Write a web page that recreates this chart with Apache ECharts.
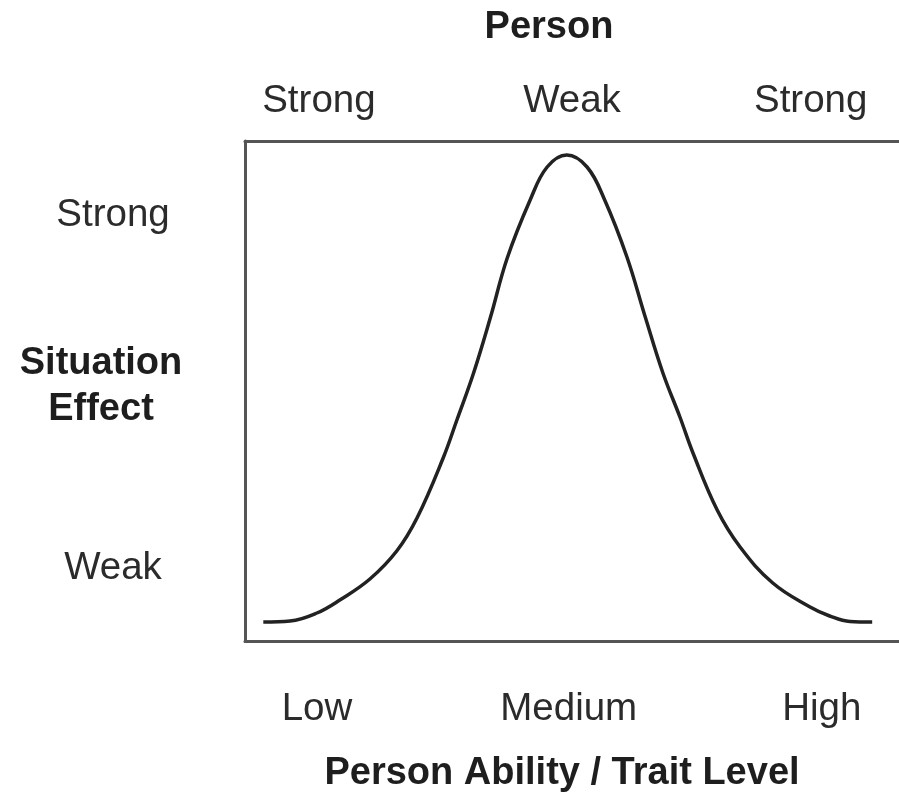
<!DOCTYPE html>
<html>
<head>
<meta charset="utf-8">
<script src="https://cdn.jsdelivr.net/npm/echarts@6/dist/echarts.min.js"></script>
<style>
html,body{margin:0;padding:0;background:#fff;}
#chart{width:899px;height:797px;}
</style>
</head>
<body>
<div id="chart"></div>
<script>
// Curve: person ability (0-100) vs situation effect (0-100)
var abilityX = [2.8, 6.9, 11.0, 14.5, 19.1, 23.2, 26.3, 30.3, 32.4, 34.9, 37.5, 40.1, 43.6, 46.2, 49.2, 52.3, 55.0, 58.4, 61.2, 63.9, 66.5, 68.5, 72.2, 75.7, 80.7, 86.4, 89.4, 92.5, 95.9];
var effectY  = [3.8, 4.0, 5.6, 8.2, 12.4, 18.0, 24.6, 36.6, 44.2, 53.4, 64.6, 76.6, 88.2, 94.8, 97.2, 94.8, 88.2, 76.8, 64.8, 53.6, 44.8, 37.6, 26.2, 18.8, 11.6, 6.8, 5.0, 3.9, 3.8];

// Tick labels and their positions on the axes
var bottomTicks = [11.0, 49.5, 88.2];
var bottomLabels = ['Low', 'Medium', 'High'];
var topTicks = [11.3, 50.0, 86.5];
var topLabels = ['Strong', 'Weak', 'Strong'];
var leftTicks = [14.6, 85.2];
var leftLabels = ['Weak', 'Strong'];

var topTitle = 'Person';
var bottomTitle = 'Person Ability / Trait Level';
var leftTitle = 'Situation\nEffect';

var FONT = '"Liberation Sans", Arial, sans-serif';
var TXT = '#2b2b2b';
var LINE = '#555555';

function lookup(ticks, labels) {
  return function (v) {
    for (var i = 0; i < ticks.length; i++) {
      if (Math.abs(ticks[i] - v) < 1e-6) return labels[i];
    }
    return '';
  };
}

var chart = echarts.init(document.getElementById('chart'), null, {renderer: 'canvas'});
var seriesData = abilityX.map(function (x, i) { return [x, effectY[i]]; });

chart.setOption({
  animation: false,
  backgroundColor: '#ffffff',
  grid: {left: 245, right: 0, top: 141, bottom: 156, containLabel: false},
  xAxis: [
    {
      type: 'value', position: 'bottom', min: 0, max: 100,
      axisLine: {show: true, onZero: false, lineStyle: {color: LINE, width: 3}},
      axisTick: {show: false}, splitLine: {show: false},
      axisLabel: {show: true, customValues: bottomTicks, formatter: lookup(bottomTicks, bottomLabels),
        margin: 49, fontSize: 38.5, fontFamily: FONT, color: TXT, showMinLabel: true, showMaxLabel: true}
    },
    {
      type: 'value', position: 'top', min: 0, max: 100,
      axisLine: {show: true, onZero: false, lineStyle: {color: LINE, width: 3}},
      axisTick: {show: false}, splitLine: {show: false},
      axisLabel: {show: true, customValues: topTicks, formatter: lookup(topTicks, topLabels),
        margin: 20, fontSize: 38.5, fontFamily: FONT, color: TXT}
    }
  ],
  yAxis: {
    type: 'value', min: 0, max: 100,
    axisLine: {show: true, onZero: false, lineStyle: {color: LINE, width: 3}},
    axisTick: {show: false}, splitLine: {show: false},
    axisLabel: {show: true, customValues: leftTicks, formatter: lookup(leftTicks, leftLabels),
      margin: 132, align: 'center', fontSize: 38.5, fontFamily: FONT, color: TXT}
  },
  graphic: [
    {type: 'text', x: 549, y: 28, style: {text: topTitle, align: 'center', verticalAlign: 'middle',
      font: 'bold 38px ' + FONT, fill: '#1e1e1e'}},
    {type: 'text', x: 562, y: 774, style: {text: bottomTitle, align: 'center', verticalAlign: 'middle',
      font: 'bold 38px ' + FONT, fill: '#1e1e1e'}},
    {type: 'text', x: 101, y: 387, style: {text: leftTitle, align: 'center', verticalAlign: 'middle',
      font: 'bold 38px ' + FONT, lineHeight: 46, fill: '#1e1e1e'}}
  ],
  series: [{
    type: 'line', xAxisIndex: 0, data: seriesData, smooth: 0.4, symbol: 'none',
    lineStyle: {color: '#222222', width: 3.5}
  }]
});
</script>
</body>
</html>
